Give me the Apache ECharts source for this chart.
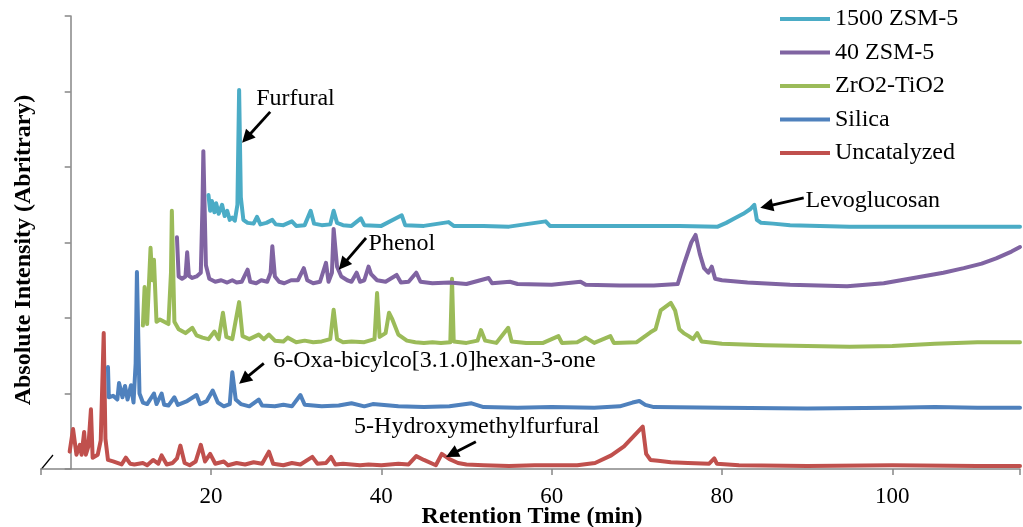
<!DOCTYPE html>
<html>
<head>
<meta charset="utf-8">
<script src="https://cdn.jsdelivr.net/npm/echarts@6/dist/echarts.min.js"></script>
<style>
html,body{margin:0;padding:0;background:#fff;}
#c{width:1023px;height:527px;}
</style>
</head>
<body>
<div id="c"></div>
<script>
// ---- data (retention time [min], intensity in arbitrary offset units) ----
const seriesNames = ['1500 ZSM-5', '40 ZSM-5', 'ZrO2-TiO2', 'Silica', 'Uncatalyzed'];
const xTicks = [20, 40, 60, 80, 100];

const uncatalyzed = [
  [3.4,0.23],[3.8,0.53],[4.2,0.19],[4.6,0.32],[4.8,0.19],[5.1,0.49],[5.3,0.19],[5.6,0.30],[5.9,0.79],[6.1,0.15],
  [6.7,0.19],[7.05,0.38],[7.4,1.80],[7.6,0.40],[7.9,0.12],[8.5,0.10],[9.5,0.06],[10.0,0.15],[10.5,0.07],[11.0,0.06],
  [12.0,0.08],[12.5,0.05],[13.2,0.12],[13.8,0.07],[14.2,0.18],[14.8,0.06],[15.5,0.08],[16.0,0.14],[16.4,0.31],[16.9,0.08],
  [17.5,0.05],[18.2,0.10],[18.8,0.32],[19.3,0.10],[19.9,0.20],[20.5,0.07],[21.5,0.10],[22.0,0.05],[23.0,0.08],[24.0,0.06],
  [25.0,0.09],[26.0,0.07],[26.8,0.23],[27.3,0.07],[28.5,0.05],[29.5,0.08],[30.5,0.06],[31.9,0.16],[32.5,0.07],[33.5,0.08],
  [34.1,0.16],[34.6,0.06],[35.5,0.07],[36.5,0.06],[37.5,0.05],[38.5,0.06],[40.0,0.05],[42.0,0.07],[43.2,0.06],[44.1,0.17],
  [45.0,0.12],[46.4,0.05],[47.1,0.20],[48.0,0.13],[49.0,0.08],[50.0,0.06],[52.0,0.05],[55.0,0.04],[58.0,0.05],[61.0,0.05],
  [63.0,0.05],[65.1,0.08],[67.0,0.18],[68.5,0.30],[69.5,0.42],[70.7,0.56],[71.1,0.20],[71.6,0.12],[72.5,0.11],[74.0,0.09],
  [76.0,0.08],[78.5,0.07],[79.1,0.14],[79.4,0.07],[82.0,0.05],[90.0,0.04],[100.0,0.05],[110.0,0.04],[115.0,0.04]
];
const silica = [
  [7.9,1.35],[8.0,0.95],[8.5,0.97],[9.0,0.92],[9.2,1.14],[9.6,0.95],[9.9,1.10],[10.2,0.92],[10.6,1.11],[10.9,0.88],
  [11.15,1.40],[11.3,2.61],[11.6,1.00],[12.0,0.88],[12.5,0.86],[13.3,1.00],[13.6,0.86],[14.2,1.00],[14.5,0.85],[15.0,0.84],
  [15.7,0.95],[16.1,0.85],[17.2,0.90],[18.3,0.98],[18.7,0.86],[19.5,0.90],[20.2,1.04],[20.8,0.88],[21.5,0.83],[22.2,0.86],
  [22.5,1.28],[22.9,0.92],[23.5,0.86],[24.5,0.83],[25.6,0.92],[26.0,0.84],[27.5,0.83],[28.5,0.85],[29.5,0.83],[30.5,0.98],
  [31.0,0.85],[33.0,0.83],[35.0,0.84],[36.5,0.87],[38.0,0.83],[39.0,0.86],[42.0,0.83],[45.0,0.82],[48.0,0.83],[50.6,0.87],
  [52.0,0.82],[56.0,0.81],[60.0,0.82],[65.0,0.81],[68.0,0.83],[69.5,0.88],[70.3,0.90],[71.0,0.85],[72.0,0.82],[80.0,0.81],
  [90.0,0.80],[100.0,0.81],[105.0,0.82],[110.0,0.81],[115.0,0.81]
];
const zrTi = [
  [12.0,1.90],[12.2,2.41],[12.5,1.92],[12.9,2.93],[13.1,2.50],[13.3,2.77],[13.6,1.95],[14.0,1.98],[14.5,1.95],[15.0,1.92],
  [15.3,2.60],[15.4,3.42],[15.7,1.95],[16.2,1.85],[17.0,1.80],[17.8,1.87],[18.3,1.77],[19.0,1.74],[19.7,1.72],[20.4,1.82],
  [20.9,1.72],[21.4,2.07],[21.8,1.75],[22.5,1.72],[23.3,2.21],[23.7,1.76],[24.5,1.72],[25.6,1.78],[26.2,1.72],[26.8,1.78],
  [27.5,1.70],[28.5,1.69],[29.0,1.74],[30.0,1.68],[31.0,1.70],[32.0,1.68],[33.0,1.69],[34.0,1.72],[34.4,2.11],[34.8,1.72],
  [35.5,1.68],[36.5,1.69],[38.0,1.68],[39.2,1.72],[39.5,2.33],[39.8,1.75],[40.5,1.80],[40.9,2.07],[41.3,1.98],[42.0,1.78],
  [43.0,1.70],[44.0,1.68],[45.0,1.67],[46.0,1.68],[47.0,1.67],[48.1,1.68],[48.3,2.52],[48.5,1.69],[50.0,1.67],[51.3,1.70],
  [51.7,1.84],[52.2,1.70],[53.5,1.67],[54.9,1.87],[55.3,1.69],[57.0,1.67],[59.0,1.67],[60.8,1.76],[61.2,1.67],[63.0,1.68],
  [64.0,1.74],[65.0,1.67],[66.9,1.76],[67.3,1.67],[70.0,1.68],[71.6,1.81],[72.2,1.85],[72.8,2.10],[73.4,2.15],[74.0,2.20],
  [74.5,2.10],[75.0,1.85],[75.5,1.80],[76.1,1.76],[76.6,1.72],[77.1,1.80],[77.6,1.69],[80.0,1.66],[85.0,1.64],[90.0,1.63],
  [95.0,1.62],[100.0,1.63],[105.0,1.66],[110.0,1.68],[115.0,1.68]
];
const zsm40 = [
  [16.0,3.07],[16.2,2.55],[16.6,2.52],[17.0,2.55],[17.2,2.87],[17.4,2.56],[17.8,2.53],[18.3,2.55],[18.8,2.60],[19.0,3.50],
  [19.1,4.21],[19.4,2.70],[19.8,2.52],[20.5,2.48],[21.2,2.50],[21.9,2.47],[22.5,2.50],[23.0,2.47],[23.6,2.48],[24.3,2.64],
  [24.6,2.48],[25.3,2.46],[25.9,2.50],[26.6,2.48],[27.0,2.60],[27.2,2.95],[27.5,2.55],[28.0,2.48],[28.6,2.46],[29.4,2.50],
  [30.2,2.50],[30.9,2.66],[31.3,2.50],[32.0,2.46],[32.8,2.48],[33.5,2.73],[33.8,2.48],[34.2,2.60],[34.4,3.18],[34.8,2.68],
  [35.3,2.55],[36.0,2.50],[36.5,2.48],[37.1,2.60],[37.5,2.48],[38.0,2.50],[38.5,2.68],[38.8,2.58],[39.5,2.50],[40.5,2.48],
  [41.8,2.57],[42.3,2.47],[43.2,2.48],[44.1,2.60],[44.6,2.48],[46.0,2.46],[48.0,2.47],[50.0,2.45],[52.6,2.53],[53.0,2.46],
  [55.1,2.48],[56.0,2.45],[60.0,2.44],[63.4,2.48],[64.0,2.44],[68.0,2.43],[72.0,2.43],[74.8,2.45],[75.5,2.70],[76.4,3.00],
  [76.9,3.10],[77.4,2.85],[77.9,2.66],[78.4,2.60],[78.8,2.68],[79.2,2.52],[80.0,2.50],[83.0,2.47],[88.0,2.44],[94.7,2.42],
  [99.0,2.46],[102.5,2.53],[106.0,2.60],[108.4,2.66],[110.5,2.72],[112.2,2.79],[114.0,2.88],[115.0,2.94]
];
const zsm1500 = [
  [19.7,3.63],[19.9,3.42],[20.1,3.55],[20.4,3.40],[20.6,3.52],[20.9,3.38],[21.3,3.50],[21.6,3.35],[21.9,3.42],[22.2,3.30],
  [22.5,3.33],[22.8,3.29],[23.1,3.50],[23.3,5.02],[23.5,3.60],[23.8,3.30],[24.3,3.26],[25.0,3.25],[25.4,3.34],[25.8,3.24],
  [26.5,3.26],[27.2,3.30],[27.6,3.24],[28.5,3.23],[29.5,3.28],[30.0,3.22],[31.0,3.23],[31.7,3.42],[32.1,3.25],[33.0,3.23],
  [34.0,3.24],[34.4,3.42],[34.8,3.26],[35.5,3.23],[36.5,3.22],[37.6,3.32],[38.0,3.23],[40.0,3.22],[42.4,3.36],[42.8,3.23],
  [45.0,3.22],[47.9,3.27],[48.5,3.22],[52.0,3.22],[55.0,3.21],[59.3,3.28],[59.8,3.22],[65.0,3.22],[70.0,3.22],[75.0,3.22],
  [79.5,3.21],[80.5,3.26],[81.5,3.32],[82.5,3.38],[83.3,3.44],[83.8,3.50],[84.1,3.30],[84.6,3.26],[86.0,3.25],[88.0,3.23],
  [95.0,3.21],[105.0,3.21],[115.0,3.21]
];

// annotations: label anchor (left-middle), arrow tail, arrow tip, in data units
const annotations = [
  {text:'Furfural', at:[25.3,4.91], from:[26.95,4.73], to:[23.65,4.32]},
  {text:'Levoglucosan', at:[89.8,3.56], from:[89.6,3.59], to:[84.5,3.46]},
  {text:'Phenol', at:[38.5,2.99], from:[38.2,3.06], to:[35.0,2.64]},
  {text:'6-Oxa-bicylco[3.1.0]hexan-3-one', at:[27.3,1.44], from:[26.2,1.40], to:[23.3,1.13]},
  {text:'5-Hydroxymethylfurfural', at:[36.8,0.56], from:[51.1,0.36], to:[47.6,0.16]}
];

const colors = ['#4BACC6', '#8064A2', '#9BBB59', '#4F81BD', '#C0504D'];
const seriesData = [zsm1500, zsm40, zrTi, silica, uncatalyzed];

const FONT = '"Liberation Serif", "Times New Roman", serif';
const AX = '#868686';

const chart = echarts.init(document.getElementById('c'), null, {renderer: 'canvas'});

const series = seriesNames.map((n, i) => ({
  name: n, type: 'line', xAxisIndex: 0, yAxisIndex: 0,
  data: seriesData[i], showSymbol: false, symbol: 'none', smooth: false,
  lineStyle: {color: colors[i], width: 4, join: 'round', cap: 'round'},
  itemStyle: {color: colors[i]},
  animation: false, z: 2 + (4 - i)
}));

chart.setOption({
  animation: false,
  backgroundColor: '#fff',
  grid: [
    {left: 40.7, right: 0, top: 16, bottom: 58},
    {left: 70.7, top: 16, bottom: 58, width: 1}
  ],
  xAxis: [
    {type: 'value', gridIndex: 0, min: 0, max: 115, interval: 20,
     axisLine: {show: true, lineStyle: {color: AX, width: 1.5}},
     axisTick: {show: true, inside: false, length: 6, lineStyle: {color: AX, width: 1.5}},
     axisLabel: {show: true, margin: 16, color: '#000', fontSize: 23, fontFamily: FONT,
       formatter: v => (v > 0 && v % 20 === 0) ? String(v) : ''},
     splitLine: {show: false}},
    {type: 'value', gridIndex: 1, show: false, min: 0, max: 1}
  ],
  yAxis: [
    {type: 'value', gridIndex: 0, min: 0, max: 6, interval: 1, show: false, splitLine: {show: false}},
    {type: 'value', gridIndex: 1, min: 0, max: 6, interval: 1, position: 'left',
     axisLine: {show: true, lineStyle: {color: AX, width: 1.5}},
     axisTick: {show: true, inside: false, length: 6, lineStyle: {color: AX, width: 1.5}},
     axisLabel: {show: false}, splitLine: {show: false}}
  ],
  legend: {
    orient: 'vertical', left: 780, top: 7, padding: 0, itemWidth: 50, itemHeight: 4, itemGap: 9.5,
    icon: 'rect', data: seriesNames,
    textStyle: {fontSize: 24, fontFamily: FONT, color: '#000', lineHeight: 24}
  },
  series: series
});

function px(p) { return chart.convertToPixel({gridIndex: 0}, p); }

const g = [];
// axis titles
g.push({type: 'text', x: 532, y: 517, style: {text: 'Retention Time (min)', font: 'bold 24px ' + FONT, fill: '#000', align: 'center', verticalAlign: 'middle'}});
g.push({type: 'text', x: 24, y: 250, rotation: Math.PI / 2, style: {text: 'Absolute Intensity (Abritrary)', font: 'bold 24px ' + FONT, fill: '#000', align: 'center', verticalAlign: 'middle'}});
// axis break mark
g.push({type: 'line', shape: {x1: 41.5, y1: 469, x2: 53, y2: 455}, style: {stroke: '#000', lineWidth: 1.2}});

annotations.forEach(a => {
  const p = px(a.at), f = px(a.from), t = px(a.to);
  g.push({type: 'text', x: p[0], y: p[1], style: {text: a.text, font: '24px ' + FONT, fill: '#000', align: 'left', verticalAlign: 'middle'}, z: 20});
  const dx = t[0] - f[0], dy = t[1] - f[1], L = Math.hypot(dx, dy);
  const ux = dx / L, uy = dy / L, hl = 13, hw = 6.5;
  const bx = t[0] - ux * hl, by = t[1] - uy * hl;
  g.push({type: 'line', shape: {x1: f[0], y1: f[1], x2: bx + ux * 2, y2: by + uy * 2}, style: {stroke: '#000', lineWidth: 2.8}, z: 20});
  g.push({type: 'polygon', shape: {points: [[t[0], t[1]], [bx - uy * hw, by + ux * hw], [bx + uy * hw, by - ux * hw]]}, style: {fill: '#000'}, z: 20});
});

chart.setOption({graphic: g});
</script>
</body>
</html>
